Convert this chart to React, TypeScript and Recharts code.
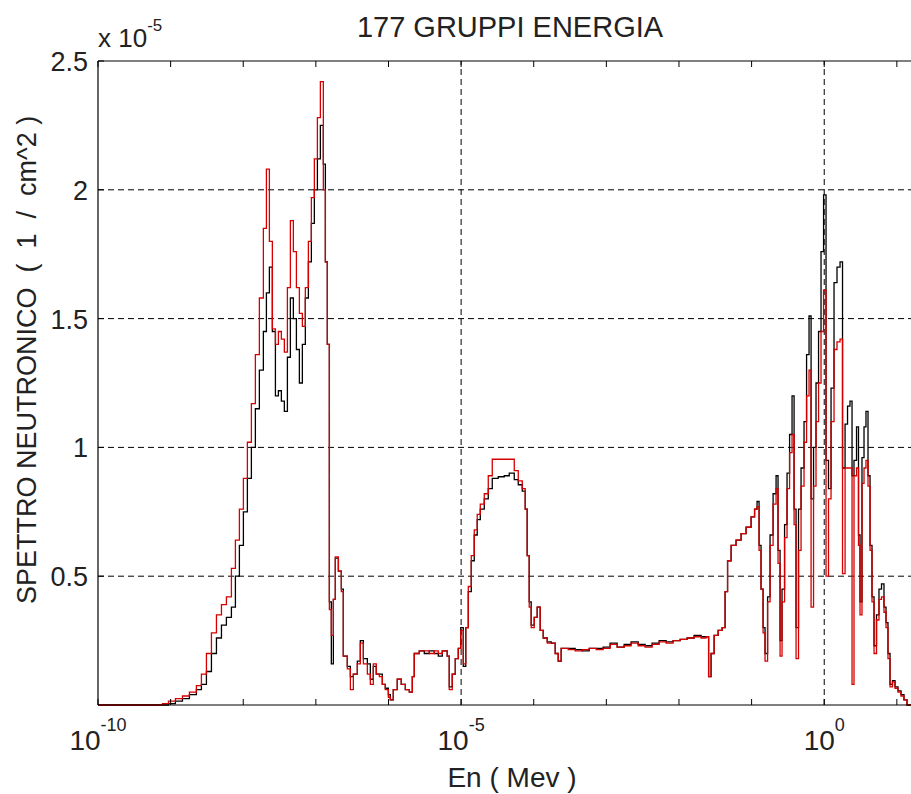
import React from "react";
import { LineChart, Line, XAxis, YAxis, ReferenceLine } from "recharts";

// group boundaries, as log10(E / MeV)
const energyExp = [
  -10.0, -9.112, -9.03, -8.934, -8.837, -8.741, -8.645, -8.576, -8.507, -8.438,
  -8.369, -8.3, -8.232, -8.163, -8.108, -8.053, -7.998, -7.943, -7.888, -7.833,
  -7.778, -7.723, -7.681, -7.64, -7.599, -7.557, -7.516, -7.475, -7.434, -7.392,
  -7.351, -7.31, -7.268, -7.227, -7.186, -7.145, -7.103, -7.062, -7.021, -6.979,
  -6.938, -6.897, -6.869, -6.842, -6.814, -6.787, -6.759, -6.732, -6.69, -6.649,
  -6.622, -6.567, -6.525, -6.484, -6.429, -6.388, -6.346, -6.291, -6.25, -6.209,
  -6.168, -6.126, -6.085, -6.044, -6.002, -5.975, -5.934, -5.879, -5.824, -5.768,
  -5.713, -5.672, -5.645, -5.576, -5.507, -5.438, -5.369, -5.314, -5.259, -5.191,
  -5.163, -5.122, -5.08, -5.039, -5.005, -4.97, -4.936, -4.901, -4.86, -4.819,
  -4.778, -4.736, -4.681, -4.626, -4.571, -4.489, -4.406, -4.337, -4.268, -4.213,
  -4.158, -4.117, -4.09, -4.062, -4.035, -3.993, -3.952, -3.911, -3.869, -3.814,
  -3.759, -3.704, -3.663, -3.622, -3.525, -3.429, -3.333, -3.236, -3.14, -3.044,
  -2.948, -2.851, -2.755, -2.659, -2.562, -2.466, -2.37, -2.273, -2.177, -2.081,
  -1.984, -1.888, -1.792, -1.695, -1.627, -1.592, -1.558, -1.516, -1.461, -1.406,
  -1.365, -1.331, -1.282, -1.214, -1.145, -1.076, -1.007, -0.959, -0.925, -0.897,
  -0.87, -0.842, -0.815, -0.78, -0.746, -0.704, -0.663, -0.636, -0.608, -0.581,
  -0.546, -0.512, -0.477, -0.443, -0.415, -0.388, -0.354, -0.319, -0.278, -0.243,
  -0.209, -0.181, -0.147, -0.113, -0.078, -0.044, -0.009, 0.025, 0.059, 0.094,
  0.135, 0.176, 0.218, 0.252, 0.287, 0.321, 0.355, 0.383, 0.41, 0.445,
  0.472, 0.493, 0.52, 0.548, 0.575, 0.603, 0.631, 0.658, 0.686, 0.72,
  0.754, 0.789, 0.823, 0.851, 0.878, 0.906, 0.94, 0.975, 1.016, 1.057,
  1.098, 1.14, 1.25,
];

// flux, in units of 1e-5 / cm^2
const fluxBlack = [
  0, 0, 0.005, 0.015, 0.025, 0.04, 0.06, 0.08, 0.13, 0.2,
  0.26, 0.31, 0.34, 0.38, 0.5, 0.62, 0.75, 0.88, 1.0, 1.15,
  1.3, 1.45, 1.6, 1.7, 1.45, 1.2, 1.22, 1.18, 1.14, 1.35,
  1.58, 1.5, 1.38, 1.25, 1.4, 1.58, 1.72, 1.87, 2.0, 2.12,
  2.25, 2.1, 1.72, 1.4, 0.4, 0.16, 0.41, 0.57, 0.52, 0.45,
  0.19, 0.15, 0.11, 0.12, 0.17, 0.25, 0.18, 0.16, 0.1, 0.15,
  0.12, 0.12, 0.08, 0.065, 0.04, 0.02, 0.06, 0.1, 0.08, 0.06,
  0.05, 0.11, 0.2, 0.21, 0.2, 0.21, 0.2, 0.19, 0.21, 0.19,
  0.07, 0.12, 0.18, 0.22, 0.3, 0.15, 0.3, 0.44, 0.56, 0.66,
  0.72, 0.76, 0.8, 0.84, 0.88, 0.886, 0.89, 0.9, 0.875, 0.855,
  0.83, 0.76, 0.58, 0.4, 0.31, 0.34, 0.38, 0.29, 0.26, 0.245,
  0.24, 0.2, 0.17, 0.22, 0.22, 0.215, 0.21, 0.22, 0.22, 0.225,
  0.24, 0.225, 0.235, 0.245, 0.235, 0.23, 0.24, 0.25, 0.245, 0.25,
  0.255, 0.26, 0.27, 0.265, 0.265, 0.11, 0.2, 0.27, 0.29, 0.3,
  0.44, 0.56, 0.62, 0.64, 0.665, 0.69, 0.73, 0.76, 0.79, 0.62,
  0.45, 0.3, 0.2, 0.42, 0.66, 0.82, 0.89, 0.6, 0.25, 0.45,
  0.7, 0.9, 1.05, 1.2, 0.76, 0.3, 0.76, 0.92, 1.1, 1.36,
  1.51, 0.8, 1.0, 1.25, 1.45, 1.76, 1.98, 0.95, 0.84, 1.23,
  1.64, 1.7, 1.72, 0.92, 1.09, 1.16, 1.18, 0.89, 0.95, 1.08,
  0.66, 0.4, 0.96, 1.08, 1.14, 0.89, 0.62, 0.42, 0.23, 0.35,
  0.45, 0.47, 0.38, 0.32, 0.2, 0.08, 0.095, 0.07, 0.055, 0.04,
  0.02, 0, 0,
];

const fluxRed = [
  0, 0.005, 0.015, 0.025, 0.035, 0.05, 0.075, 0.12, 0.2, 0.28,
  0.35, 0.39, 0.42, 0.53, 0.64, 0.76, 0.88, 1.02, 1.17, 1.36,
  1.58, 1.85, 2.08, 1.8, 1.46, 1.4, 1.45, 1.42, 1.37, 1.62,
  1.88, 1.76, 1.62, 1.52, 1.47, 1.62, 1.8, 1.97, 2.12, 2.28,
  2.42, 2.0, 1.72, 1.4, 0.37, 0.27, 0.41, 0.575, 0.52, 0.44,
  0.19, 0.14, 0.06, 0.12, 0.16, 0.24, 0.16, 0.12, 0.08, 0.16,
  0.12, 0.11, 0.08, 0.06, 0.03, 0.02, 0.06, 0.1, 0.08, 0.06,
  0.05, 0.11, 0.2, 0.21, 0.21, 0.2, 0.21, 0.2, 0.21, 0.19,
  0.06, 0.12, 0.18, 0.22, 0.29, 0.16, 0.3, 0.46, 0.58, 0.68,
  0.74, 0.78, 0.82, 0.89, 0.954, 0.954, 0.954, 0.954, 0.91, 0.87,
  0.84, 0.76, 0.58, 0.38, 0.3, 0.34, 0.38, 0.29, 0.26, 0.24,
  0.24, 0.2, 0.17, 0.22, 0.215, 0.21, 0.215, 0.22, 0.215, 0.22,
  0.235, 0.225, 0.23, 0.24, 0.23, 0.225, 0.235, 0.245, 0.24, 0.25,
  0.255, 0.26, 0.265, 0.26, 0.265, 0.11, 0.2, 0.27, 0.29, 0.3,
  0.44, 0.56, 0.62, 0.64, 0.665, 0.69, 0.73, 0.76, 0.77, 0.6,
  0.45, 0.28, 0.17, 0.4, 0.62, 0.78, 0.84, 0.55, 0.19, 0.4,
  0.65, 0.84, 0.98, 1.05, 0.7, 0.18, 0.6, 0.85, 1.02, 1.2,
  1.3, 0.38, 0.85, 1.1, 1.25, 1.45, 1.61, 0.5, 0.8, 1.1,
  1.38, 1.41, 1.42, 0.51, 0.92, 0.92, 0.92, 0.08, 0.89, 0.92,
  0.62, 0.35, 0.86, 0.92, 0.95, 0.85, 0.6, 0.4, 0.2, 0.33,
  0.41, 0.42, 0.36, 0.3, 0.18, 0.07, 0.09, 0.065, 0.05, 0.035,
  0.02, 0, 0,
];

const decadeTicks = [
  1e-10, 1e-9, 1e-8, 1e-7, 1e-6, 1e-5, 1e-4, 1e-3, 1e-2, 1e-1, 1, 10,
];
const labeledExps = [-10, -5, 0];
const yTicks = [0.5, 1, 1.5, 2, 2.5];
const yGrid = [0.5, 1, 1.5, 2];
const xGrid = [1e-5, 1];

const data = energyExp.map((e, i) => ({
  energy: Math.pow(10, e),
  black: fluxBlack[i],
  red: fluxRed[i],
}));

const FONT = "'Liberation Sans', Arial, sans-serif";
const X_MAX = Math.pow(10, 1.25);

const BottomTick = (props: any) => {
  const { x, y, payload } = props;
  const exp = Math.round(Math.log10(payload.value));
  return (
    <g>
      <line x1={x} x2={x} y1={y} y2={y - 6} stroke="#000" />
      {labeledExps.includes(exp) && (
        <text x={x} y={y + 45} textAnchor="middle" fontSize={28} fontFamily={FONT} fill="#222">
          10
          <tspan dy={-19} fontSize={18}>{exp}</tspan>
        </text>
      )}
    </g>
  );
};

const TopTick = (props: any) => {
  const { x, y } = props;
  return <line x1={x} x2={x} y1={y} y2={y + 6} stroke="#000" />;
};

const LeftTick = (props: any) => {
  const { x, y, payload } = props;
  return (
    <g>
      <line x1={x} x2={x + 6} y1={y} y2={y} stroke="#000" />
      <text x={x - 10} y={y + 10} textAnchor="end" fontSize={27} fontFamily={FONT} fill="#222">
        {payload.value}
      </text>
    </g>
  );
};

const App = () => {
  return (
    <div
      style={{
        position: "absolute",
        left: 0,
        top: 0,
        width: 911,
        height: 794,
        overflow: "hidden",
        background: "#fff",
      }}
    >
      <LineChart
        width={920}
        height={794}
        data={data}
        margin={{ top: 31, right: 5, bottom: 29, left: 38 }}
      >
        <XAxis
          dataKey="energy"
          type="number"
          scale="log"
          domain={[1e-10, X_MAX]}
          allowDataOverflow
          ticks={decadeTicks}
          interval={0}
          height={60}
          tickSize={0}
          tickMargin={0}
          tickLine={false}
          axisLine={{ stroke: "#000", strokeWidth: 1.2 }}
          tick={BottomTick}
        />
        <XAxis
          xAxisId="top"
          orientation="top"
          dataKey="energy"
          type="number"
          scale="log"
          domain={[1e-10, X_MAX]}
          allowDataOverflow
          ticks={decadeTicks}
          interval={0}
          height={30}
          tickSize={0}
          tickMargin={0}
          tickLine={false}
          axisLine={{ stroke: "#000", strokeWidth: 1.2 }}
          tick={TopTick}
        />
        <YAxis
          type="number"
          domain={[0, 2.5]}
          ticks={yTicks}
          interval={0}
          width={60}
          tickSize={0}
          tickMargin={0}
          tickLine={false}
          axisLine={{ stroke: "#000", strokeWidth: 1.2 }}
          tick={LeftTick}
        />
        {yGrid.map((v) => (
          <ReferenceLine key={"y" + v} y={v} stroke="#000" strokeDasharray="6 4" />
        ))}
        {xGrid.map((v) => (
          <ReferenceLine key={"x" + v} x={v} stroke="#000" strokeDasharray="6 4" />
        ))}
        <Line
          type="stepAfter"
          dataKey="black"
          stroke="#000"
          strokeWidth={1.3}
          dot={false}
          activeDot={false}
          isAnimationActive={false}
        />
        <Line
          type="stepAfter"
          dataKey="red"
          stroke="#d60000"
          strokeWidth={1.3}
          dot={false}
          activeDot={false}
          isAnimationActive={false}
        />
      </LineChart>
      <svg
        width={911}
        height={794}
        style={{ position: "absolute", left: 0, top: 0, pointerEvents: "none" }}
      >
        <text x={510} y={37} textAnchor="middle" fontSize={29} fontFamily={FONT} fill="#222">
          177 GRUPPI ENERGIA
        </text>
        <text x={98} y={47} fontSize={26} fontFamily={FONT} fill="#222">
          x 10
          <tspan dy={-16} fontSize={17}>-5</tspan>
        </text>
        <text x={512} y={787} textAnchor="middle" fontSize={28} fontFamily={FONT} fill="#222">
          En ( Mev )
        </text>
        <text
          x={0}
          y={0}
          transform="translate(36 604) rotate(-90)"
          textAnchor="start"
          fontSize={27}
          fontFamily={FONT}
          fill="#222"
          style={{ whiteSpace: "pre" }}
        >
          {"SPETTRO NEUTRONICO  (  1  /  cm^2 )"}
        </text>
      </svg>
    </div>
  );
};

export default App;
